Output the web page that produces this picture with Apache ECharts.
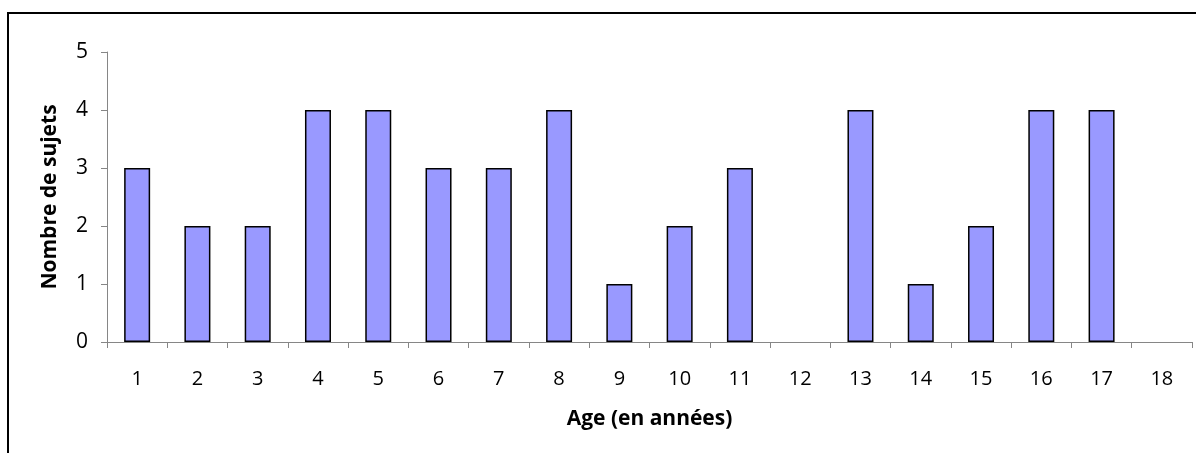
<!DOCTYPE html>
<html><head><meta charset="utf-8">
<script src="https://cdn.jsdelivr.net/npm/echarts@6/dist/echarts.min.js"></script>
<style>html,body{margin:0;padding:0;background:#fff}#c{width:1196px;height:453px}</style>
</head><body><div id="c"></div>
<script>
const categories = ['1','2','3','4','5','6','7','8','9','10','11','12','13','14','15','16','17','18'];
const counts = [3,2,2,4,4,3,3,4,1,2,3,0,4,1,2,4,4,0];
const yTitle = 'Nombre de sujets';
const xTitle = 'Age (en années)';
const font = '"Open Sans", sans-serif';
const chart = echarts.init(document.getElementById('c'));
chart.setOption({
  animation: false,
  graphic: [{type:'rect', shape:{x:8,y:13,width:1400,height:800}, style:{fill:'none', stroke:'#000', lineWidth:2}, silent:true}],
  grid: {left:107, top:52, right:4, bottom:111},
  xAxis: {
    type:'category', data: categories, boundaryGap:true,
    name: xTitle, nameLocation:'middle', nameGap:67,
    nameTextStyle:{fontFamily:font, fontWeight:'bold', fontSize:21, color:'#000'},
    axisLine:{lineStyle:{color:'#868686', width:1}},
    axisTick:{show:true, alignWithLabel:false, length:6, lineStyle:{color:'#868686'}},
    axisLabel:{margin:27, fontFamily:font, fontSize:20, color:'#000'}
  },
  yAxis: {
    type:'value', min:0, max:5, interval:1,
    name: yTitle, nameLocation:'middle', nameGap:46,
    nameTextStyle:{fontFamily:font, fontWeight:'bold', fontSize:21, color:'#000'},
    axisLine:{show:true, lineStyle:{color:'#868686', width:1}},
    axisTick:{show:true, length:6, lineStyle:{color:'#868686'}},
    splitLine:{show:false},
    axisLabel:{margin:19, fontFamily:font, fontSize:21, color:'#000'}
  },
  series: [{
    type:'bar', barWidth:26,
    data: counts.map(v => v === 0 ? {value:v, itemStyle:{borderWidth:0}} : v),
    itemStyle:{color:'#9999ff', borderColor:'#000', borderWidth:1.5}
  }]
});
</script></body></html>
